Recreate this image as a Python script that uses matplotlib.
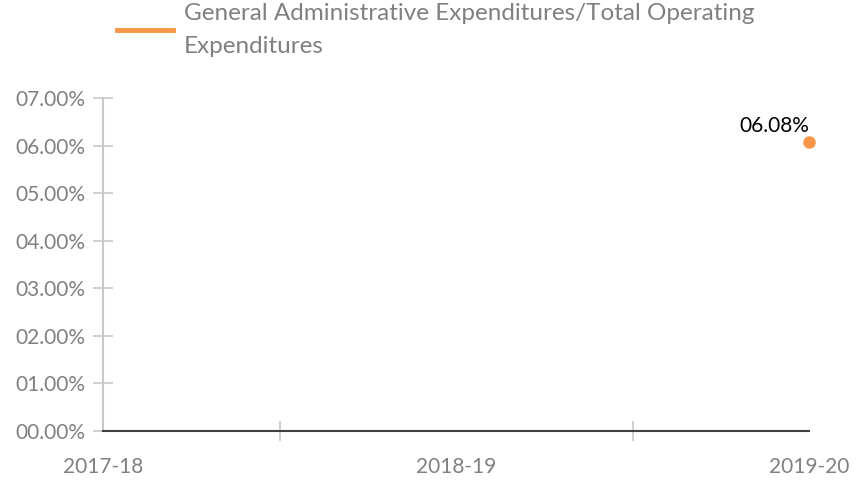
import matplotlib
matplotlib.use("Agg")
import matplotlib.pyplot as plt
from matplotlib.ticker import FuncFormatter

years = ["2017-18", "2018-19", "2019-20"]
ratio_pct = [None, None, 6.08]
series_name = "General Administrative Expenditures/Total Operating\nExpenditures"

plt.rcParams["font.family"] = ["Lato", "DejaVu Sans"]

grey = "#808080"
orange = "#F79646"

fig = plt.figure(figsize=(8.65, 4.8), dpi=100)
ax = fig.add_axes([103 / 865, 1 - 431 / 480, (809 - 103) / 865, (431 - 98) / 480])

xs = list(range(len(years)))
px = [x for x, v in zip(xs, ratio_pct) if v is not None]
py = [v for v in ratio_pct if v is not None]
ax.plot(px, py, color=orange, lw=2.5, marker="o", ms=8, label=series_name,
        clip_on=False)
for x, v in zip(px, py):
    ax.annotate("0%.2f%%" % v, (x, v), xytext=(0, 4), textcoords="offset points",
                ha="right", va="bottom", fontsize=15, color="black")

ax.set_xlim(0, len(years) - 1)
ax.set_ylim(0, 7)
ax.set_yticks(range(0, 8))
ax.yaxis.set_major_formatter(FuncFormatter(lambda v, p: "0%.2f%%" % v))
ax.set_xticks(xs)
ax.set_xticklabels(years)
ax.set_xticks([0.5, 1.5], minor=True)

for s in ["top", "right"]:
    ax.spines[s].set_visible(False)
ax.spines["left"].set_color("#c8c8c8")
ax.spines["left"].set_linewidth(1.5)
ax.spines["bottom"].set_color("#404040")
ax.spines["bottom"].set_linewidth(1.5)

ax.tick_params(axis="y", direction="inout", length=14, width=1.2, color="#c8c8c8",
               labelsize=15, labelcolor=grey, pad=6)
ax.tick_params(axis="x", which="major", length=0, labelsize=15, labelcolor=grey, pad=19)
ax.tick_params(axis="x", which="minor", direction="inout", length=14, width=1.2,
               color="#c8c8c8")

fig.legend(loc="upper left", bbox_to_anchor=(117 / 865, 1 - 3 / 480), frameon=False,
           fontsize=17.5, labelcolor=grey, handlelength=2.3, handletextpad=0.45,
           borderaxespad=0.0, borderpad=0.0)
leg = fig.legends[0]
for t in leg.get_texts():
    t.set_linespacing(1.72)
for h in leg.get_lines():
    h.set_marker("")
    h.set_linewidth(3.5)

fig.savefig("out.png", dpi=100)
